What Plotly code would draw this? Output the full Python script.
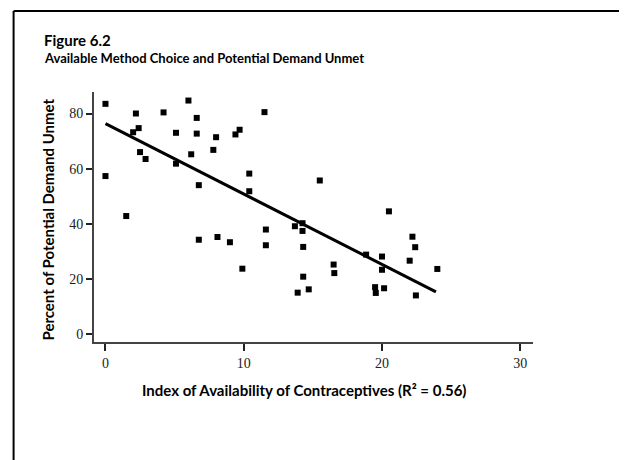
import plotly.graph_objects as go

# data
index_avail = [0, 0, 1.5, 2.0, 2.2, 2.4, 2.5, 2.9, 4.2, 5.1, 5.1, 6.0, 6.2, 6.6, 6.6, 6.75, 6.75,
               7.8, 8.0, 8.1, 9.0, 9.4, 9.7, 9.9, 10.4, 10.4, 11.5, 11.6, 11.6, 13.7, 13.9,
               14.25, 14.25, 14.3, 14.3, 14.7, 15.5, 16.5, 16.55, 18.85, 19.5, 19.55, 20.0,
               20.0, 20.15, 20.5, 22.0, 22.2, 22.4, 22.45, 24.0]
demand_unmet = [83.5, 57.3, 42.8, 73.2, 80.0, 74.7, 66.0, 63.5, 80.4, 73.0, 61.8, 84.7, 65.2, 78.4,
                72.7, 54.0, 34.2, 66.8, 71.4, 35.2, 33.3, 72.4, 74.1, 23.7, 58.2, 51.8, 80.5,
                37.9, 32.2, 39.1, 15.0, 40.2, 37.4, 31.6, 20.8, 16.2, 55.7, 25.2, 22.1, 28.8,
                17.0, 14.9, 28.1, 23.3, 16.6, 44.5, 26.6, 35.3, 31.5, 14.0, 23.6]
fit_x = [0, 23.9]
fit_y = [76.3, 15.3]
x_ticks = [0, 10, 20, 30]
y_ticks = [0, 20, 40, 60, 80]

# page body has an 8px margin, so the figure is drawn 8px in from the window corner
OFF = 8
W, H = 627 - OFF, 460 - OFF
L, R, T, B = 93.5 - OFF, 94, 92 - OFF, 118
pw, ph = W - L - R, H - T - B


def px(x):
    return (x - OFF - L) / pw


def py(y):
    return (H - B - (y - OFF)) / ph


fig = go.Figure()
fig.add_trace(go.Scatter(x=index_avail, y=demand_unmet, mode='markers',
                         marker=dict(symbol='square', size=6, color='black', line_width=0)))
fig.add_trace(go.Scatter(x=fit_x, y=fit_y, mode='lines', line=dict(color='black', width=3)))

axis_font = dict(family='Liberation Serif, DejaVu Serif, serif', size=14, color='#222')
fig.update_xaxes(range=[-0.83, 30.92], tickvals=x_ticks, showgrid=False, zeroline=False,
                 showline=True, linecolor='#444', linewidth=2, ticks='outside', ticklen=7,
                 tickwidth=1.5, tickcolor='#222', tickfont=axis_font)
fig.update_yaxes(range=[-2.9, 87.8], tickvals=y_ticks, showgrid=False, zeroline=False,
                 showline=True, linecolor='#444', linewidth=2, ticks='outside', ticklen=6,
                 tickwidth=1.5, tickcolor='#222', tickfont=axis_font)

fig.add_annotation(text='<b>Figure 6.2</b>', x=px(41), y=py(40), xref='paper', yref='paper',
                   xanchor='left', yanchor='middle', showarrow=False,
                   font=dict(family='Lato', size=15, color='black'))
fig.add_annotation(text='<b>Available Method Choice and Potential Demand Unmet</b>', x=px(41), y=py(58),
                   xref='paper', yref='paper', xanchor='left', yanchor='middle', showarrow=False,
                   font=dict(family='Lato', size=13, color='black'))
fig.add_annotation(text='<b>Index of Availability of Contraceptives (R² = 0.56)</b>', x=px(304), y=py(390),
                   xref='paper', yref='paper', xanchor='center', yanchor='middle', showarrow=False,
                   font=dict(family='Lato', size=15, color='black'))
fig.add_annotation(text='<b>Percent of Potential Demand Unmet</b>', x=px(47), y=py(220),
                   xref='paper', yref='paper', xanchor='center', yanchor='middle', showarrow=False,
                   textangle=-90, font=dict(family='Lato', size=15, color='black'))

# frame around the figure (left and top edges visible)
fig.add_shape(type='line', xref='paper', yref='paper', x0=px(13), x1=px(13), y0=py(11), y1=py(470),
              line=dict(color='black', width=2))
fig.add_shape(type='line', xref='paper', yref='paper', x0=px(13), x1=px(640), y0=py(11), y1=py(11),
              line=dict(color='black', width=2))

fig.update_layout(width=W, height=H, margin=dict(l=L, r=R, t=T, b=B), showlegend=False,
                  plot_bgcolor='white', paper_bgcolor='white')
fig.write_html("out.html")
